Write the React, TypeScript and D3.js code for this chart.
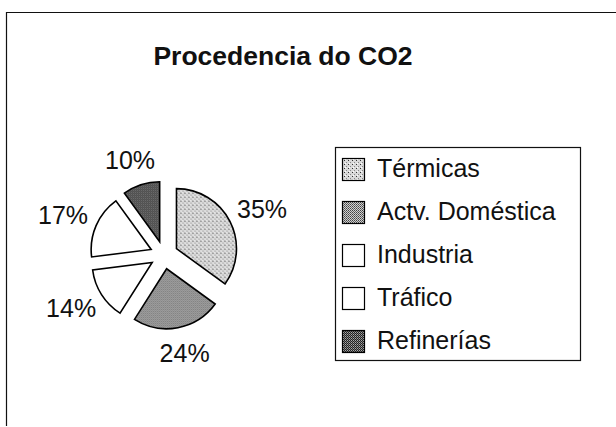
import React from "react";
import * as d3 from "d3";

// chart data
const categories = ["Térmicas", "Actv. Doméstica", "Industria", "Tráfico", "Refinerías"];
const shares = [35, 24, 14, 17, 10];
const fills = ["url(#patLight)", "url(#patMid)", "#ffffff", "#ffffff", "url(#patDark)"];
const chartTitle = "Procedencia do CO2";

const W = 616;
const H = 427;
const FONT = "'Liberation Sans', Arial, sans-serif";

const cx = 164;
const cy = 255;
const radius = 60;
const explode = 14;
const labelRx = 110;
const labelRy = 100;

export default function App() {
  const pie = d3.pie<number>().sort(null).value(d => d);
  const arcs = pie(shares);
  const arc = d3.arc<d3.PieArcDatum<number>>().innerRadius(0).outerRadius(radius);
  const total = d3.sum(shares);

  // direction of the middle of a slice, 0 = up, clockwise
  const dir = (a: d3.PieArcDatum<number>) => {
    const m = (a.startAngle + a.endAngle) / 2;
    return [Math.sin(m), -Math.cos(m)];
  };

  // legend rows
  const rowY = d3.scalePoint<string>().domain(categories).range([177, 349]);

  return (
    <svg width={W} height={H} style={{ position: "absolute", left: 0, top: 0, background: "#fff" }}>
      <defs>
        <pattern id="patLight" width="4" height="4" patternUnits="userSpaceOnUse">
          <rect width="4" height="4" fill="#d9d9d9" />
          <rect x="0" y="0" width="1" height="1" fill="#333" />
          <rect x="2" y="2" width="1" height="1" fill="#888" />
          <rect x="1" y="3" width="1" height="1" fill="#fff" />
        </pattern>
        <pattern id="patMid" width="2" height="2" patternUnits="userSpaceOnUse">
          <rect width="2" height="2" fill="#d0d0d0" />
          <rect x="0" y="0" width="1" height="1" fill="#444" />
          <rect x="1" y="1" width="1" height="1" fill="#666" />
        </pattern>
        <pattern id="patDark" width="2" height="2" patternUnits="userSpaceOnUse">
          <rect width="2" height="2" fill="#222" />
          <rect x="1" y="0" width="1" height="1" fill="#aaa" />
          <rect x="0" y="1" width="1" height="1" fill="#777" />
        </pattern>
      </defs>

      {/* outer frame (scanned page, only left and top visible) */}
      <path d={`M6.5,426 V12.5 H${W}`} fill="none" stroke="#111" strokeWidth={1.2} />

      <text x={283} y={65} textAnchor="middle" fontFamily={FONT} fontWeight="bold" fontSize={26.5} fill="#111">
        {chartTitle}
      </text>

      {/* exploded pie */}
      <g transform={`translate(${cx},${cy})`}>
        {arcs.map((a, i) => {
          const [dx, dy] = dir(a);
          return (
            <path
              key={categories[i]}
              d={arc(a) || ""}
              transform={`translate(${dx * explode},${dy * explode})`}
              fill={fills[i]}
              stroke="#000"
              strokeWidth={1.6}
              strokeLinejoin="miter"
            />
          );
        })}
        {arcs.map((a, i) => {
          const [dx, dy] = dir(a);
          return (
            <text
              key={"l" + i}
              x={dx * labelRx}
              y={dy * labelRy}
              dy="0.35em"
              textAnchor="middle"
              fontFamily={FONT}
              fontSize={25}
              fill="#111"
            >
              {Math.round((a.data / total) * 100)}%
            </text>
          );
        })}
      </g>

      {/* legend */}
      <rect x={335.5} y={147.5} width={245} height={213} fill="#fff" stroke="#111" strokeWidth={1.2} />
      {categories.map((c, i) => {
        const y = rowY(c) as number;
        return (
          <g key={c}>
            <rect x={342.5} y={y - 18.5} width={22} height={22} fill={fills[i]} stroke="#000" strokeWidth={1.2} />
            <text x={377} y={y} fontFamily={FONT} fontSize={25} fill="#111">
              {c}
            </text>
          </g>
        );
      })}
    </svg>
  );
}
